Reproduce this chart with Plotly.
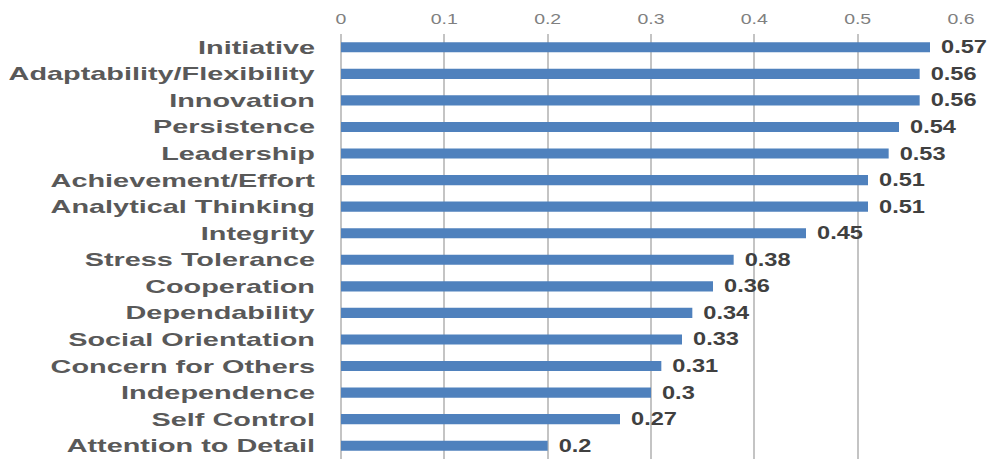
import plotly.graph_objects as go

categories = ["Initiative", "Adaptability/Flexibility", "Innovation", "Persistence",
              "Leadership", "Achievement/Effort", "Analytical Thinking", "Integrity",
              "Stress Tolerance", "Cooperation", "Dependability", "Social Orientation",
              "Concern for Others", "Independence", "Self Control", "Attention to Detail"]
values = [0.57, 0.56, 0.56, 0.54, 0.53, 0.51, 0.51, 0.45, 0.38, 0.36, 0.34, 0.33,
          0.31, 0.3, 0.27, 0.2]
tick_vals = [0, 0.1, 0.2, 0.3, 0.4, 0.5, 0.6]
tick_text = ["0", "0.1", "0.2", "0.3", "0.4", "0.5", "0.6"]

fig = go.Figure(go.Bar(
    x=values, y=categories, orientation="h",
    marker=dict(color="#4F81BD", line=dict(width=0)),
    width=0.38,
    text=[f"{v:g}" for v in values],
    textposition="outside",
    constraintext="none",
    cliponaxis=False,
    textfont=dict(family="Liberation Sans, Arial", size=18, color="#404040", weight="bold"),
))

fig.update_layout(
    width=992, height=460,
    margin=dict(l=341, r=31, t=34, b=1),
    paper_bgcolor="white", plot_bgcolor="white",
    showlegend=False,
    xaxis=dict(
        side="top", range=[0, 0.6], tickvals=tick_vals, ticktext=tick_text,
        showgrid=True, gridcolor="#C4C4C4", gridwidth=2,
        zeroline=True, zerolinecolor="#C4C4C4", zerolinewidth=2,
        tickfont=dict(family="Liberation Sans, Arial", size=15, color="#808080"),
        ticks="", ticklabelstandoff=6, showline=False,
    ),
    yaxis=dict(
        autorange="reversed",
        tickfont=dict(family="Liberation Sans, Arial", size=18.5, color="#595959", weight="bold"),
        ticks="", ticklabelstandoff=25, showgrid=False, showline=False,
    ),
)

# The reference text is horizontally stretched; widen the text glyphs to match.
post = """
var gd = document.getElementById('{plot_id}');
function sx(sel, s, anchor, dx){
  gd.querySelectorAll(sel).forEach(function(t){
    if (t.getAttribute('data-sx')) return;
    var b = t.getBBox();
    var ax = anchor === 'start' ? b.x : (anchor === 'end' ? b.x + b.width : b.x + b.width / 2);
    var tr = t.getAttribute('transform') || '';
    t.setAttribute('transform', tr + ' translate(' + (ax + dx) + ',0) scale(' + s + ',1) translate(' + (-ax) + ',0)');
    t.setAttribute('data-sx', '1');
  });
}
sx('.ytick text', 1.56, 'end', 0);
sx('.xtick text', 1.3, 'middle', 0);
sx('text.bartext', 1.31, 'start', 8);
"""

fig.write_html("out.html", post_script=post)
